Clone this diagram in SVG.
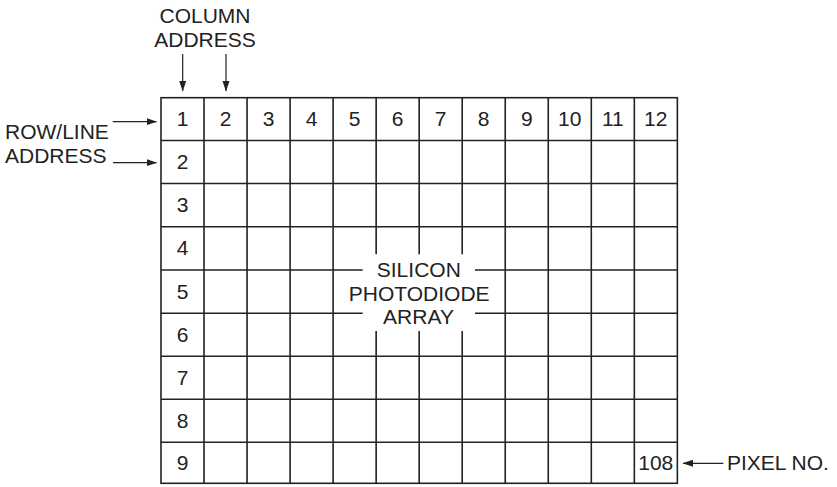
<svg xmlns="http://www.w3.org/2000/svg" width="837" height="487" viewBox="0 0 837 487">
<style>
text{font-family:"Liberation Sans",Arial,Helvetica,sans-serif;font-size:21px;fill:#222}
.c{text-anchor:middle}
.g{stroke:#222;stroke-width:1.6;fill:none}
.a{stroke:#222;stroke-width:1.2;fill:none}
</style>
<defs>
<marker id="ah" markerUnits="userSpaceOnUse" markerWidth="11" markerHeight="8" refX="10" refY="3.5" orient="auto">
<path d="M0,0 L10.5,3.5 L0,7 z" fill="#222"/>
</marker>
</defs>
<rect width="837" height="487" fill="#fff"/>
<g id="grid" class="g">
<rect x="161" y="97.7" width="516.36" height="385.6"/>
<path d="M204.03,97.7V483.3M247.06,97.7V483.3M290.09,97.7V483.3M333.12,97.7V483.3M505.24,97.7V483.3M548.27,97.7V483.3M591.3,97.7V483.3M634.33,97.7V483.3"/>
<path d="M376.15,97.7V254.3M376.15,331V483.3M419.18,97.7V254.3M419.18,331V483.3M462.21,97.7V254.3M462.21,331V483.3"/>
<path d="M161,140.5H677.36M161,183.5H677.36M161,226.7H677.36M161,356.3H677.36M161,399.3H677.36M161,442.3H677.36"/>
<path d="M161,270H362.7M475,270H677.36M161,313.3H362.7M475,313.3H677.36"/>
</g>
<g id="column-numbers" class="c">
<text x="182.5" y="126">1</text>
<text x="225.5" y="126">2</text>
<text x="268.6" y="126">3</text>
<text x="311.6" y="126">4</text>
<text x="354.6" y="126">5</text>
<text x="397.7" y="126">6</text>
<text x="440.7" y="126">7</text>
<text x="483.7" y="126">8</text>
<text x="526.8" y="126">9</text>
<text x="569.8" y="126">10</text>
<text x="612.8" y="126">11</text>
<text x="655.8" y="126">12</text>
</g>
<g id="row-numbers" class="c">
<text x="182.5" y="169">2</text>
<text x="182.5" y="212">3</text>
<text x="182.5" y="255.2">4</text>
<text x="182.5" y="298.5">5</text>
<text x="182.5" y="341.8">6</text>
<text x="182.5" y="384.8">7</text>
<text x="182.5" y="427.8">8</text>
<text x="182.5" y="470">9</text>
</g>
<g id="pixel-108" class="c"><text x="655.8" y="470">108</text></g>
<g id="array-label" class="c">
<text x="418.8" y="276.5">SILICON</text>
<text x="419.2" y="300.5">PHOTODIODE</text>
<text x="418.5" y="324.3">ARRAY</text>
</g>
<g id="column-address" class="c">
<text x="205" y="23.3">COLUMN</text>
<text x="205" y="47">ADDRESS</text>
</g>
<g id="row-address">
<text x="5" y="139.3">ROW/LINE</text>
<text x="5" y="163.3">ADDRESS</text>
</g>
<g id="pixel-no"><text x="727" y="470">PIXEL NO.</text></g>
<g id="connectors" class="a">
<path d="M182.7,54V91" marker-end="url(#ah)"/>
<path d="M226,54V91" marker-end="url(#ah)"/>
<path d="M112.7,121.7H156.5" marker-end="url(#ah)"/>
<path d="M113,162.7H156.5" marker-end="url(#ah)"/>
<path d="M723.3,463.3H683" marker-end="url(#ah)"/>
</g>
</svg>
